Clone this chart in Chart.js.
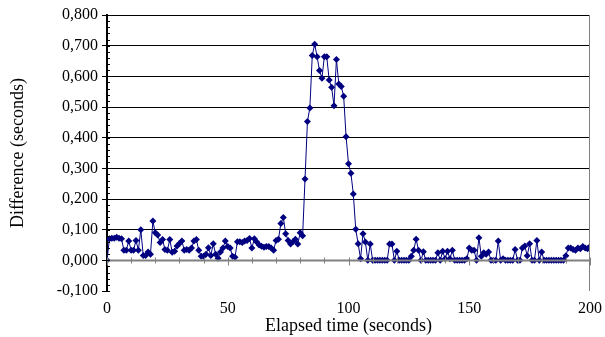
<!DOCTYPE html>
<html lang="en">
<head>
<meta charset="UTF-8">
<title>Difference vs elapsed time</title>
<script src="https://cdn.jsdelivr.net/npm/chart.js"></script>
<style>
    body { margin: 0; background: #ffffff; }
    .chart-box { position: relative; width: 605px; height: 337px; }
</style>
</head>
<body>
<div class="chart-box"><canvas id="diffChart"></canvas></div>
<script>
    // sample times (seconds)
    const elapsed = [
        0, 1, 2, 3, 4, 5, 6, 7, 8, 9, 10, 11, 12, 13, 14, 15, 16, 17, 18, 19,
        20, 21, 22, 23, 24, 25, 26, 27, 28, 29, 30, 31, 32, 33, 34, 35, 36, 37, 38, 39,
        40, 41, 42, 43, 44, 45, 46, 47, 48, 49, 50, 51, 52, 53, 54, 55, 56, 57, 58, 59,
        60, 61, 62, 63, 64, 65, 66, 67, 68, 69, 70, 71, 72, 73, 74, 75, 76, 77, 78, 79,
        80, 81, 82, 83, 84, 85, 86, 87, 88, 89, 90, 91, 92, 93, 94, 95, 96, 97, 98, 99,
        100, 101, 102, 103, 104, 105, 106, 107, 108, 109, 110, 111, 112, 113, 114, 115, 116, 117, 118, 119,
        120, 121, 122, 123, 124, 125, 126, 127, 128, 129, 130, 131, 132, 133, 134, 135, 136, 137, 138, 139,
        140, 141, 142, 143, 144, 145, 146, 147, 148, 149, 150, 151, 152, 153, 154, 155, 156, 157, 158, 159,
        160, 161, 162, 163, 164, 165, 166, 167, 168, 169, 170, 171, 172, 173, 174, 175, 176, 177, 178, 179,
        180, 181, 182, 183, 184, 185, 186, 187, 188, 189, 190, 191, 192, 193, 194, 195, 196, 197, 198, 199,
        200
    ];

    // difference (seconds)
    const difference = [
        0.000, 0.070, 0.072, 0.072, 0.075, 0.072, 0.070, 0.033, 0.033, 0.063,
        0.033, 0.033, 0.065, 0.033, 0.100, 0.016, 0.016, 0.027, 0.020, 0.128,
        0.090, 0.083, 0.058, 0.068, 0.035, 0.033, 0.068, 0.026, 0.030, 0.047,
        0.055, 0.063, 0.033, 0.035, 0.033, 0.040, 0.063, 0.068, 0.033, 0.013,
        0.013, 0.020, 0.041, 0.016, 0.054, 0.020, 0.007, 0.027, 0.040, 0.063,
        0.045, 0.040, 0.013, 0.010, 0.061, 0.061, 0.058, 0.063, 0.065, 0.071,
        0.040, 0.070, 0.060, 0.050, 0.046, 0.043, 0.045, 0.045, 0.040, 0.033,
        0.065, 0.069, 0.120, 0.140, 0.087, 0.065, 0.053, 0.061, 0.069, 0.053,
        0.090, 0.080, 0.265, 0.453, 0.497, 0.668, 0.705, 0.664, 0.619, 0.594,
        0.664, 0.664, 0.588, 0.564, 0.504, 0.655, 0.575, 0.567, 0.535, 0.403,
        0.315, 0.284, 0.216, 0.101, 0.054, 0.005, 0.087, 0.060, 0.000, 0.053,
        0.000, 0.000, 0.000, 0.000, 0.000, 0.000, 0.000, 0.053, 0.053, 0.000,
        0.030, 0.000, 0.000, 0.000, 0.000, 0.000, 0.013, 0.033, 0.069, 0.033,
        0.000, 0.028, 0.000, 0.000, 0.000, 0.000, 0.000, 0.025, 0.000, 0.030,
        0.005, 0.030, 0.005, 0.033, 0.000, 0.000, 0.000, 0.000, 0.000, 0.005,
        0.040, 0.033, 0.033, 0.000, 0.074, 0.013, 0.025, 0.020, 0.027, 0.000,
        0.000, 0.000, 0.063, 0.000, 0.005, 0.000, 0.000, 0.000, 0.000, 0.035,
        0.000, 0.000, 0.040, 0.047, 0.015, 0.054, 0.000, 0.000, 0.065, 0.000,
        0.027, 0.000, 0.000, 0.000, 0.000, 0.000, 0.000, 0.000, 0.000, 0.000,
        0.015, 0.040, 0.040, 0.035, 0.033, 0.040, 0.038, 0.045, 0.040, 0.038,
        0.045
    ];

    const xMin = 0, xMax = 200, xStep = 50, xMinorStep = 10;
    const yMin = -0.1, yMax = 0.8, yStep = 0.1, yMinorStep = 0.02;

    const navy = '#000080';
    const serif = "'Liberation Serif', 'Times New Roman', serif";

    // x axis sits on the zero line, plus small ticks and a right border
    const axisExtras = {
        id: 'axisExtras',
        afterDraw(chart) {
            const { ctx, chartArea, scales } = chart;
            const x = scales.x, y = scales.y;
            const y0 = Math.round(y.getPixelForValue(0)) + 0.5;
            ctx.save();
            ctx.strokeStyle = '#808080';
            ctx.lineWidth = 1;
            ctx.beginPath();
            ctx.moveTo(chartArea.right - 0.5, chartArea.top);
            ctx.lineTo(chartArea.right - 0.5, chartArea.bottom);
            ctx.stroke();

            ctx.lineWidth = 2;
            ctx.beginPath();
            ctx.moveTo(chartArea.left, y0);
            ctx.lineTo(chartArea.right, y0);
            ctx.stroke();

            ctx.lineWidth = 1;
            ctx.beginPath();
            for (let v = xMin; v <= xMax; v += xMinorStep) {
                const px = Math.round(x.getPixelForValue(v)) + 0.5;
                const len = v % xStep === 0 ? 5 : 3;
                ctx.moveTo(px, y0 - 3);
                ctx.lineTo(px, y0 + len);
            }
            ctx.stroke();

            ctx.strokeStyle = '#000000';
            ctx.beginPath();
            for (let i = 0; i <= Math.round((yMax - yMin) / yMinorStep); i++) {
                const py = Math.round(y.getPixelForValue(yMin + i * yMinorStep)) + 0.5;
                ctx.moveTo(chartArea.left, py);
                ctx.lineTo(chartArea.left + 3, py);
            }
            ctx.stroke();
            ctx.restore();
        }
    };

    const ctx = document.getElementById('diffChart').getContext('2d');
    new Chart(ctx, {
        type: 'line',
        data: {
            labels: elapsed,
            datasets: [{
                label: 'Difference',
                data: difference,
                borderColor: navy,
                backgroundColor: navy,
                borderWidth: 1,
                pointStyle: 'rectRot',
                pointRadius: 3.5,
                pointBorderWidth: 0,
                tension: 0
            }]
        },
        options: {
            responsive: true,
            maintainAspectRatio: false,
            animation: false,
            layout: { padding: { top: 15, right: 15, left: 0, bottom: 0 } },
            plugins: {
                legend: { display: false },
                tooltip: { enabled: false }
            },
            scales: {
                x: {
                    type: 'linear',
                    min: xMin,
                    max: xMax,
                    afterFit(scale) { scale.height = 46; },
                    ticks: {
                        stepSize: xStep,
                        color: '#000',
                        padding: 0,
                        font: { family: serif, size: 16 }
                    },
                    grid: { display: false },
                    border: { display: false },
                    title: {
                        display: true,
                        text: 'Elapsed time (seconds)',
                        color: '#000',
                        padding: { top: 4, bottom: 0 },
                        font: { family: serif, size: 18 }
                    }
                },
                y: {
                    min: yMin,
                    max: yMax,
                    afterFit(scale) { scale.width = 107; },
                    ticks: {
                        stepSize: yStep,
                        color: '#000',
                        padding: 4,
                        font: { family: serif, size: 16 },
                        callback: v => v.toFixed(3).replace('.', ',')
                    },
                    grid: {
                        color: c => c.tick && (Math.abs(c.tick.value) < 1e-9 || c.tick.value < yMin + 1e-9) ? 'rgba(0,0,0,0)' : '#000000',
                        lineWidth: 1,
                        tickLength: 5,
                        tickColor: '#000000'
                    },
                    border: { display: true, color: '#000000', width: 2 },
                    title: {
                        display: true,
                        text: 'Difference (seconds)',
                        color: '#000',
                        padding: { top: 7, bottom: 2 },
                        font: { family: serif, size: 18 }
                    }
                }
            }
        },
        plugins: [axisExtras]
    });
</script>
</body>
</html>
